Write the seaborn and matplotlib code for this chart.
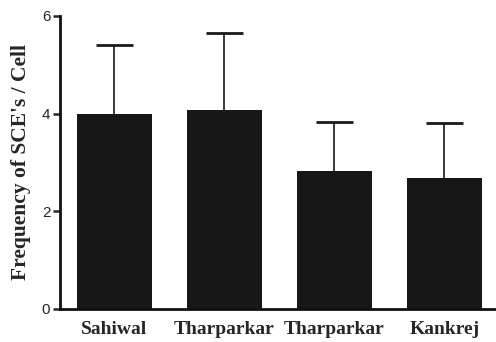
import numpy as np
import pandas as pd
import matplotlib
matplotlib.use("Agg")
import matplotlib.pyplot as plt
import seaborn as sns

# Data
groups = ["g1", "g2", "g3", "g4"]
breed_labels = ["Sahiwal", "Tharparkar", "Tharparkar", "Kankrej"]
sce_mean = [4.00, 4.08, 2.83, 2.69]
sce_err = [1.40, 1.56, 0.99, 1.11]
y_ticks = [0, 2, 4, 6]

df = pd.DataFrame({"group": groups, "sce": sce_mean})
df["top"] = df["sce"] + np.array(sce_err)

sns.set_style("ticks")
plt.rcParams["font.family"] = ["Liberation Sans", "DejaVu Sans"]

fig = plt.figure(figsize=(4.96, 3.42), dpi=100)
ax = fig.add_axes([0.121, 0.0965, 0.879, 0.857])

sns.barplot(data=df, x="group", y="sce", order=groups, color="#171717",
            width=0.68, errorbar=None, saturation=1, ax=ax, zorder=2)
for p in ax.patches:
    p.set_edgecolor("none")

# upper-only error bars: stem from bar top, cap at top
xpos = np.arange(len(groups))
ax.vlines(xpos, df["sce"], df["top"], color="#2b2b2b", lw=1.3, zorder=1)
ax.hlines(df["top"], xpos - 0.17, xpos + 0.17, color="#1a1a1a", lw=2, zorder=1)

ax.set_ylim(0, 6)
ax.set_xlim(-0.495, 3.47)
ax.set_yticks(y_ticks)
ax.set_yticklabels([str(t) for t in y_ticks], fontsize=11)
ax.set_xticks(xpos)
ax.set_xticklabels(breed_labels, family="Liberation Serif",
                   fontweight="bold", fontsize=14)
ax.tick_params(axis="x", length=0, pad=9)
ax.tick_params(axis="y", length=5, width=1.8, pad=2)

ax.set_xlabel("")
ax.set_ylabel("Frequency of SCE's / Cell", family="Liberation Serif",
              fontweight="bold", fontsize=15.5, labelpad=8)

sns.despine(ax=ax)
for s in ["left", "bottom"]:
    ax.spines[s].set_linewidth(2)
    ax.spines[s].set_color("#111111")

fig.savefig("out.png", dpi=100)
